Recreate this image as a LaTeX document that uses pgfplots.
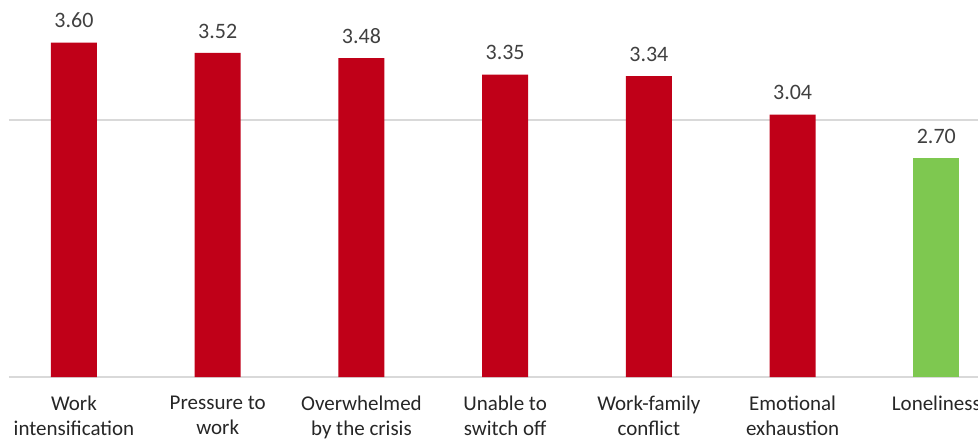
\documentclass[border=0pt]{standalone}
\usepackage{pgfplots}
\pgfplotsset{compat=1.18}
\usepackage{fontspec}
\setmainfont{Carlito}
\definecolor{barred}{HTML}{C00018}
\definecolor{bargreen}{HTML}{7EC850}
\definecolor{gridgrey}{HTML}{D9D9D9}
\definecolor{lbl}{HTML}{404040}
\begin{document}
\begin{tikzpicture}
\begin{axis}[
  scale only axis,
  width=484.5pt, height=186.5pt,
  xmin=-0.452, xmax=6.29,
  ymin=1, ymax=3.9,
  ybar, bar width=23pt, bar shift=0pt,
  axis line style={draw=none},
  tick style={draw=none},
  major tick length=0pt,
  ytick={1,3}, yticklabels={},
  ymajorgrids, grid style={gridgrey, line width=0.75pt},
  xtick={0,1,2,3,4,5,6},
  xticklabels={{Work\\intensification},{Pressure to\\work},{Overwhelmed\\by the crisis},{Unable to\\switch off},{Work-family\\conflict},{Emotional\\exhaustion},{Loneliness}},
  xticklabel style={align=center, font=\fontsize{10.5}{12.5}\selectfont, text=black!85, yshift=-6pt},
  nodes near coords,
  nodes near coords style={font=\fontsize{11}{13}\selectfont, text=lbl, yshift=3.8pt, /pgf/number format/.cd, fixed, fixed zerofill, precision=2, assume math mode=true},
  clip=false,
]
\addplot[fill=barred, draw=none] coordinates {(0,3.60) (1,3.52) (2,3.48) (3,3.35) (4,3.34) (5,3.04)};
\addplot[fill=bargreen, draw=none] coordinates {(6,2.70)};
\end{axis}
\pgfresetboundingbox
\useasboundingbox ([shift={(-4.5pt,-31pt)}]current axis.south west) rectangle ([shift={(0pt,2pt)}]current axis.north east);
\end{tikzpicture}
\end{document}
